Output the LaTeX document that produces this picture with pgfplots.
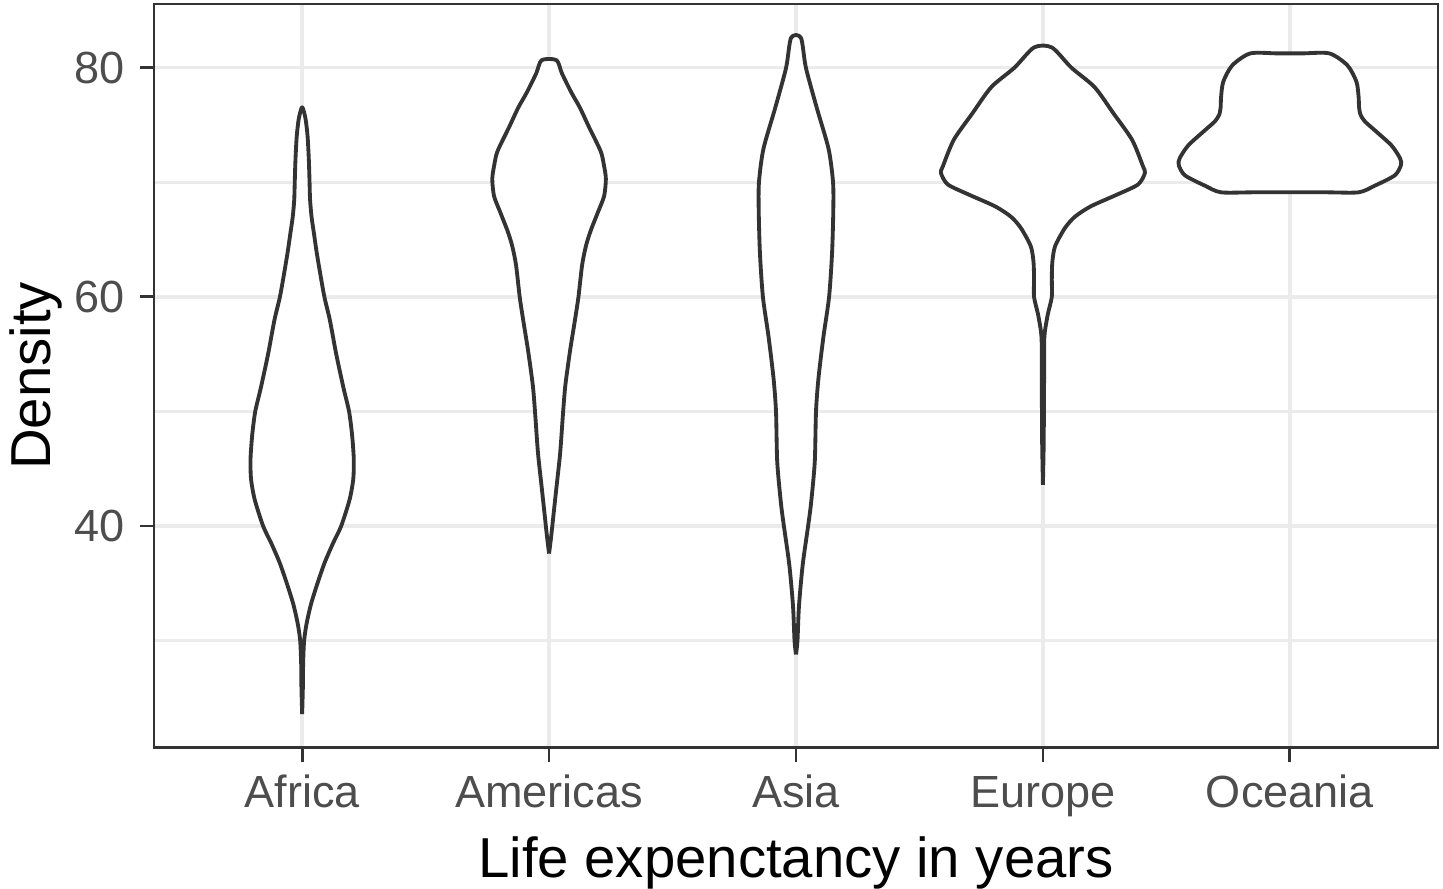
\documentclass[border=0pt]{standalone}
\usepackage{fontspec}
\setmainfont{Liberation Sans}
\usepackage{pgfplots}
\pgfplotsset{compat=1.18}
\usetikzlibrary{calc}
\definecolor{grey20}{HTML}{333333}
\definecolor{grey30}{HTML}{4D4D4D}
\definecolor{grey92}{HTML}{EBEBEB}
\begin{document}
\begin{tikzpicture}
\begin{axis}[
  name=ax,
  scale only axis,
  width=250.8pt, height=145.3pt,
  xmin=0.4, xmax=5.6, ymin=20.65, ymax=85.55,
  xtick={1,2,3,4,5},
  xticklabels={Africa,Americas,Asia,Europe,Oceania},
  ytick={40,60,80},
  minor ytick={30,50,70},
  grid=both,
  major grid style={grey92, line width=0.7pt},
  minor grid style={grey92, line width=0.5pt},
  axis line style={grey20, line width=0.55pt},
  tick style={grey20, line width=0.55pt},
  tick align=outside,
  tick pos=left,
  major tick length=2.73pt,
  minor tick length=0pt,
  /pgf/number format/assume math mode=true,
  ticklabel style={font=\fontsize{8.8}{10}\selectfont, text=grey30, inner sep=0pt},
  xticklabel style={anchor=base},
  xticklabel shift=8.97pt,
  yticklabel style={anchor=east},
  yticklabel shift=2.74pt,
  xlabel={Life expenctancy in years},
  xlabel style={at={(axis description cs:0.5,0)}, anchor=base, yshift=-25.4pt, font=\fontsize{11}{13}\selectfont, text=black, inner sep=0pt},
  ylabel={Density},
  ylabel style={at={(axis description cs:-0.08094,0.5)}, anchor=base, font=\fontsize{11}{13}\selectfont, text=black, inner sep=0pt},
  violin/.style={draw=grey20, fill=white, line width=0.75pt, smooth, tension=0.45, line join=round},
]
% Africa
\addplot[violin] coordinates {
(1.000,23.6) (1.003,26.0) (1.004,28.0) (1.008,30.0) (1.018,31.5) (1.036,33.2) (1.062,35.0) (1.091,36.8) (1.125,38.5) (1.158,40.0) (1.192,42.3) (1.207,44.1) (1.209,45.9) (1.202,48.0) (1.190,50.0) (1.168,52.0) (1.138,55.0) (1.112,58.0) (1.090,60.0) (1.071,62.3) (1.058,64.0) (1.048,65.5) (1.038,67.0) (1.032,68.5) (1.030,70.0) (1.027,72.0) (1.022,74.0) (1.014,75.5) (1.003,76.45)
(0.997,76.45) (0.986,75.5) (0.978,74.0) (0.973,72.0) (0.970,70.0) (0.968,68.5) (0.962,67.0) (0.952,65.5) (0.942,64.0) (0.929,62.3) (0.910,60.0) (0.888,58.0) (0.862,55.0) (0.832,52.0) (0.810,50.0) (0.798,48.0) (0.791,45.9) (0.793,44.1) (0.808,42.3) (0.842,40.0) (0.875,38.5) (0.909,36.8) (0.938,35.0) (0.964,33.2) (0.982,31.5) (0.992,30.0) (0.996,28.0) (0.997,26.0) (1.000,23.6)
};
% Americas
\addplot[violin] coordinates {
(2.000,37.6) (2.008,39.0) (2.013,40.0) (2.030,43.4) (2.045,46.4) (2.057,50.0) (2.066,52.3) (2.085,55.3) (2.105,58.0) (2.119,60.0) (2.134,62.8) (2.150,64.5) (2.169,65.8) (2.200,67.5) (2.223,68.8) (2.230,70.3) (2.222,71.5) (2.209,72.7) (2.162,74.8) (2.125,76.5) (2.091,77.8) (2.052,79.5) (2.030,80.65)
(1.970,80.65) (1.948,79.5) (1.909,77.8) (1.875,76.5) (1.838,74.8) (1.791,72.7) (1.778,71.5) (1.770,70.3) (1.777,68.8) (1.800,67.5) (1.831,65.8) (1.850,64.5) (1.866,62.8) (1.881,60.0) (1.895,58.0) (1.915,55.3) (1.934,52.3) (1.943,50.0) (1.955,46.4) (1.970,43.4) (1.987,40.0) (1.992,39.0) (2.000,37.6)
};
% Asia
\addplot[violin] coordinates {
(3.000,28.8) (3.006,30.0) (3.012,33.0) (3.027,36.6) (3.049,40.0) (3.061,42.0) (3.076,45.6) (3.081,50.0) (3.091,52.9) (3.111,56.5) (3.134,60.0) (3.146,63.8) (3.151,67.5) (3.150,70.0) (3.132,72.9) (3.084,76.5) (3.040,80.0) (3.020,82.6)
(2.980,82.6) (2.960,80.0) (2.916,76.5) (2.868,72.9) (2.850,70.0) (2.849,67.5) (2.854,63.8) (2.866,60.0) (2.889,56.5) (2.909,52.9) (2.919,50.0) (2.924,45.6) (2.939,42.0) (2.951,40.0) (2.973,36.6) (2.988,33.0) (2.994,30.0) (3.000,28.8)
};
% Europe
\addplot[violin] coordinates {
(4.000,43.6) (4.003,47.0) (4.004,50.0) (4.005,54.0) (4.005,56.0) (4.008,57.0) (4.020,58.5) (4.036,60.0) (4.036,61.5) (4.038,63.0) (4.049,64.4) (4.089,66.0) (4.130,67.0) (4.194,67.9) (4.298,68.9) (4.385,69.8) (4.413,70.8) (4.405,71.4) (4.361,73.7) (4.286,76.0) (4.209,78.3) (4.115,80.0) (4.036,81.76)
(3.964,81.76) (3.885,80.0) (3.791,78.3) (3.714,76.0) (3.639,73.7) (3.595,71.4) (3.587,70.8) (3.615,69.8) (3.702,68.9) (3.806,67.9) (3.870,67.0) (3.911,66.0) (3.951,64.4) (3.962,63.0) (3.964,61.5) (3.964,60.0) (3.980,58.5) (3.992,57.0) (3.995,56.0) (3.995,54.0) (3.996,50.0) (3.997,47.0) (4.000,43.6)
};
% Oceania
\addplot[violin] coordinates {
(5.000,69.12) (5.150,69.12) (5.279,69.12) (5.344,69.7) (5.425,70.6) (5.450,71.5) (5.446,72.1) (5.412,73.2) (5.351,74.4) (5.304,75.3) (5.286,75.9) (5.280,76.6) (5.279,77.3) (5.270,78.75) (5.233,80.2) (5.160,81.24) (5.050,81.24)
(4.950,81.24) (4.840,81.24) (4.767,80.2) (4.730,78.75) (4.721,77.3) (4.720,76.6) (4.714,75.9) (4.696,75.3) (4.649,74.4) (4.588,73.2) (4.554,72.1) (4.550,71.5) (4.575,70.6) (4.656,69.7) (4.721,69.12) (4.850,69.12) (5.000,69.12)
};
\end{axis}
\pgfresetboundingbox
\path ($(ax.south west)+(-30.08pt,-27.54pt)$) rectangle ($(ax.north east)+(0.98pt,0.78pt)$);
\end{tikzpicture}
\end{document}
